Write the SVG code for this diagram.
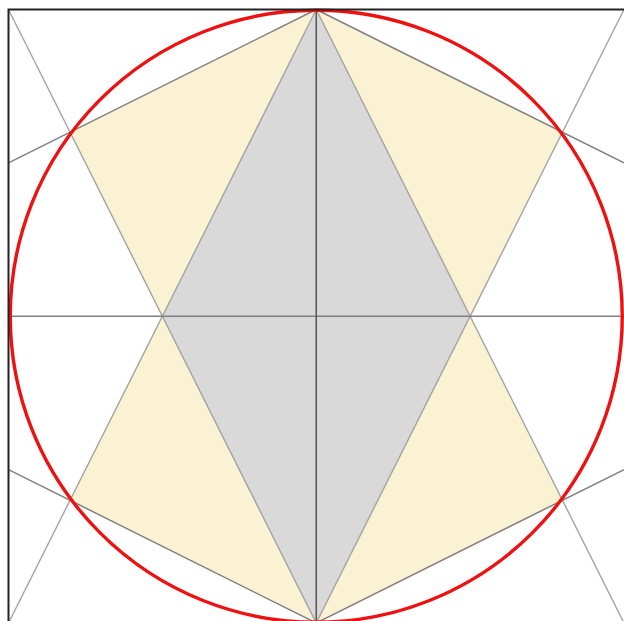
<svg xmlns="http://www.w3.org/2000/svg" width="624" height="621" viewBox="0 0 624 621">
<style>
.steep{stroke:#a3a3a3;stroke-width:1.4;fill:none}
.shallow{stroke:#808080;stroke-width:1.5;fill:none}
.axis{stroke:#5a5a5a;stroke-width:1.6;fill:none}
.yel{fill:#faf2d3;stroke:none}
.dia{fill:#d9d9d9;stroke:none}
</style>
<rect x="0" y="0" width="624" height="621" fill="#ffffff"/>
<g id="fills">
<polygon id="diamond" class="dia" points="316.25,9.5 470.1,316.25 316.25,623 162.4,316.25"/>
<polygon id="yellow-ul" class="yel" points="316.25,9.5 70.05,132.2 162.4,316.25"/>
<polygon id="yellow-ur" class="yel" points="316.25,9.5 562.45,132.2 470.1,316.25"/>
<polygon id="yellow-ll" class="yel" points="316.25,623 70.05,500.3 162.4,316.25"/>
<polygon id="yellow-lr" class="yel" points="316.25,623 562.45,500.3 470.1,316.25"/>
</g>
<g id="connectors">
<line class="steep" x1="8.5" y1="9.5" x2="316.25" y2="623"/>
<line class="steep" x1="624" y1="9.5" x2="316.25" y2="623"/>
<line class="steep" x1="8.5" y1="623" x2="316.25" y2="9.5"/>
<line class="steep" x1="624" y1="623" x2="316.25" y2="9.5"/>
<line class="shallow" x1="316.25" y1="9.5" x2="8.5" y2="162.9"/>
<line class="shallow" x1="316.25" y1="9.5" x2="624" y2="162.9"/>
<line class="shallow" x1="316.25" y1="623" x2="8.5" y2="469.6"/>
<line class="shallow" x1="316.25" y1="623" x2="624" y2="469.6"/>
<line class="shallow" x1="8.5" y1="316.25" x2="624" y2="316.25"/>
<line class="axis" x1="316.25" y1="9.5" x2="316.25" y2="623"/>
</g>
<g id="circle">
<circle cx="316.25" cy="316.25" r="306" fill="none" stroke="#ee1111" stroke-width="3.4"/>
</g>
<g id="square">
<rect x="8.5" y="9.5" width="617" height="614" fill="none" stroke="#222222" stroke-width="2"/>
</g>
</svg>
